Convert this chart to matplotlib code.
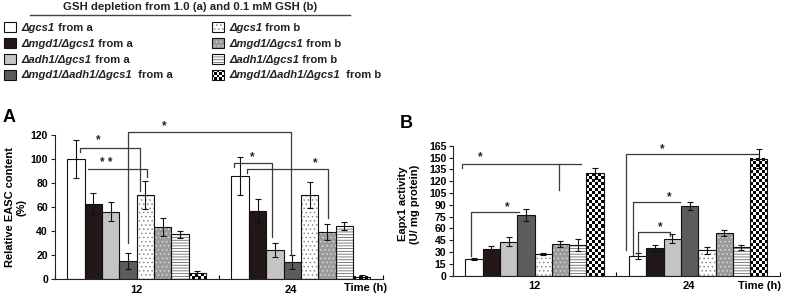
#!/usr/bin/env python3
import numpy as np
import matplotlib
matplotlib.use("Agg")
import matplotlib.pyplot as plt

# --------------------------
# Data
# --------------------------
TIMES = ["12", "24"]
SERIES = ["Δgcs1", "Δmgd1/Δgcs1", "Δadh1/Δgcs1", "Δmgd1/Δadh1/Δgcs1 ",
          "Δgcs1", "Δmgd1/Δgcs1", "Δadh1/Δgcs1", "Δmgd1/Δadh1/Δgcs1 "]
SOURCE = ["a", "a", "a", "a", "b", "b", "b", "b"]

# Panel A: relative EASC content (%)
easc_12 = [100, 62.5, 56, 15, 70, 43.6, 37.2, 4.7]
easc_12_err = [16, 9, 8, 7, 11.5, 7.4, 3, 2.2]
easc_24 = [86, 57, 24.4, 14.2, 70.3, 39.2, 44.2, 1.7]
easc_24_err = [16, 10, 6, 6, 10.8, 6.4, 3.2, 1.7]

# Panel B: Eapx1 activity (U/ mg protein)
apx_12 = [21, 34.3, 43.3, 77, 27.4, 40.3, 38.5, 129.8]
apx_12_err = [1, 3.5, 6, 7.5, 1, 4.3, 7.5, 7]
apx_24 = [24.8, 35.5, 47, 88.7, 32.5, 54, 36, 148.6]
apx_24_err = [4, 4, 5.5, 5, 4.5, 3.5, 3.5, 12]

# significance brackets: polyline (x in bar units, y in data) + star position
BRACKETS_A = [
    ([(1.44, 106), (1.44, 109), (4.9, 109), (4.9, 73.6)], (2.5, 115.3), "*"),
    ([(1.92, 91.4), (5.29, 91.4), (5.29, 85.2)], (2.94, 96.9), "* *"),
    ([(4.19, 29.7), (4.19, 122.7), (13.58, 122.7), (13.58, 20)], (6.28, 127.5), "*"),
    ([(10.32, 93.6), (10.32, 96.4), (12.52, 96.4), (12.52, 35.2)], (11.37, 101.4), "*"),
    ([(11.05, 88.1), (11.05, 91.4), (15.75, 91.4), (15.75, 50.6)], (14.99, 96.9), "*"),
]
BRACKETS_B = [
    ([(0.52, 136.3), (0.52, 141.4), (7.36, 141.4)], (1.54, 150.3), "*"),
    ([(6.13, 141.4), (6.13, 108.8)], None, ""),
    ([(1.02, 25), (1.02, 81.2), (3.8, 81.2)], (3.12, 86.8), "*"),
    ([(9.97, 32.6), (9.97, 154.1), (17.63, 154.1)], (12.08, 160.8), "*"),
    ([(10.37, 26.3), (10.37, 93.9), (13.14, 93.9)], (12.47, 100.3), "*"),
    ([(10.69, 30.5), (10.69, 55.1), (12.53, 55.1), (12.53, 50.4)], (11.99, 61.4), "*"),
]

# --------------------------
# Style
# --------------------------
FONT = "Liberation Sans"
plt.rcParams["font.family"] = [FONT, "DejaVu Sans"]
plt.rcParams["hatch.linewidth"] = 0.6
FS = 8
FACES = ["white", "#221818", "#c4c4c4", "#5c5c5c", "white", "#9a9a9a", "white", "white"]
HATCHES = [None, None, None, None, "....", "....", "------", "checker"]
HATCH_COLORS = [None, None, None, None, "#8a8a8a", "#dadada", "#6a6a6a", None]
LINE_C = "#3a3a3a"

GROUP_LEFT = [0.7, 10.17]
XMAX = 18.9
TICK_POS = [4.7, 13.6]
DIVIDERS = [0, 9.44, XMAX]

fig = plt.figure(figsize=(7.87, 2.97), dpi=100)
lax = fig.add_axes([0, 0, 1, 1])
lax.set_xlim(0, 787)
lax.set_ylim(297, 0)
lax.axis("off")


def checker(ax, x0, x1, y0, y1, cell_px=3.0, zorder=2):
    p0 = ax.transData.transform((x0, y0))
    p1 = ax.transData.transform((x1, y1))
    ncol = max(1, int(round(abs(p1[0] - p0[0]) / cell_px)))
    nrow = max(1, int(round(abs(p1[1] - p0[1]) / cell_px)))
    arr = (np.add.outer(np.arange(nrow), np.arange(ncol)) % 2).astype(float)
    ax.imshow(arr, cmap="gray", vmin=0, vmax=1, extent=(x0, x1, y0, y1),
              aspect="auto", interpolation="nearest", zorder=zorder)


def draw_panel(ax, vals, errs, ylim, yticks, brackets):
    ax.set_xlim(0, XMAX)
    ax.set_ylim(*ylim)
    for g, (v, e) in enumerate(zip(vals, errs)):
        x = GROUP_LEFT[g] + 0.5 + np.arange(len(v))
        for i in range(len(v)):
            if HATCHES[i] == "checker":
                checker(ax, x[i] - 0.5, x[i] + 0.5, 0, v[i])
            elif HATCHES[i]:
                ax.bar(x[i], v[i], width=1, color=FACES[i], edgecolor=HATCH_COLORS[i],
                       hatch=HATCHES[i], linewidth=0, zorder=2)
            else:
                ax.bar(x[i], v[i], width=1, color=FACES[i], linewidth=0, zorder=2)
            ax.bar(x[i], v[i], width=1, fill=False, edgecolor="#111111",
                   linewidth=0.8, zorder=3)
        ax.errorbar(x, v, yerr=e, fmt="none", ecolor="#111111", elinewidth=0.8,
                    capsize=2.2, capthick=0.8, zorder=4)
    for pts, star, lab in brackets:
        xs, ys = zip(*pts)
        ax.plot(xs, ys, color=LINE_C, lw=0.9, clip_on=False, zorder=5)
        if star is not None:
            ax.text(star[0], star[1], lab, ha="center", va="center", fontsize=8.5,
                    fontweight="bold", color="#222222", clip_on=False)
    ax.set_xlim(0, XMAX)
    ax.set_ylim(*ylim)
    ax.set_yticks(yticks)
    ax.set_yticklabels([str(t) for t in yticks], fontsize=7.6, fontweight="bold")
    ax.set_xticks(TICK_POS)
    ax.set_xticklabels(TIMES, fontsize=FS, fontweight="bold")
    ax.tick_params(axis="x", length=0, pad=4)
    ax.set_xticks(DIVIDERS, minor=True)
    ax.tick_params(axis="x", which="minor", direction="in", length=3, width=0.8)
    ax.tick_params(axis="y", length=3, width=0.8, pad=2, color="#222222")
    for s in ["top", "right"]:
        ax.spines[s].set_visible(False)
    for s in ["left", "bottom"]:
        ax.spines[s].set_linewidth(0.8)
        ax.spines[s].set_color("#222222")


# Panel A
axA = fig.add_axes([55 / 787, 18 / 297, 328 / 787, 144 / 297])
draw_panel(axA, [easc_12, easc_24], [easc_12_err, easc_24_err], (0, 120),
           list(range(0, 121, 20)), BRACKETS_A)

# Panel B
axB = fig.add_axes([453.3 / 787, 21.3 / 297, 326.7 / 787, 130 / 297])
draw_panel(axB, [apx_12, apx_24], [apx_12_err, apx_24_err], (0, 165),
           list(range(0, 166, 15)), BRACKETS_B)

# Axis labels and panel letters (figure pixel coords)
lax.text(16, 207, "Relative EASC content\n(%)", rotation=90, ha="center", va="center",
         multialignment="center", fontsize=FS, fontweight="bold", linespacing=1.15)
lax.text(409, 204, "Eapx1 activity\n(U/ mg protein)", rotation=90, ha="center",
         va="center", multialignment="center", fontsize=FS, fontweight="bold",
         linespacing=1.15)
lax.text(366, 288, "Time (h)", ha="center", va="center", fontsize=FS, fontweight="bold")
lax.text(760, 286, "Time (h)", ha="center", va="center", fontsize=FS, fontweight="bold")
lax.text(9, 118, "A", ha="center", va="center", fontsize=13, fontweight="bold")
lax.text(406, 123, "B", ha="center", va="center", fontsize=13, fontweight="bold")

# Legend
lax.text(190, 7.5, "GSH depletion from 1.0 (a) and 0.1 mM GSH (b)", ha="center",
         va="center", fontsize=8.2, fontweight="bold", color="#222222")
lax.plot([30, 350], [15, 15], color="#444444", lw=1)

ROW_Y = [27.3, 43.3, 59, 74.7]
renderer = fig.canvas.get_renderer()
for i, (name, src) in enumerate(zip(SERIES, SOURCE)):
    col = i // 4
    y = ROW_Y[i % 4]
    bx = 4 if col == 0 else 212.3
    tx = 21.7 if col == 0 else 229.3
    if HATCHES[i] == "checker":
        checker(lax, bx, bx + 11.7, y + 5, y - 5, cell_px=2.4)
    elif HATCHES[i]:
        lax.add_patch(plt.Rectangle((bx, y - 5), 11.7, 10, facecolor=FACES[i],
                                    edgecolor=HATCH_COLORS[i], hatch=HATCHES[i], lw=0))
    else:
        lax.add_patch(plt.Rectangle((bx, y - 5), 11.7, 10, facecolor=FACES[i], lw=0))
    lax.add_patch(plt.Rectangle((bx, y - 5), 11.7, 10, fill=False,
                                edgecolor="#111111", lw=0.8, zorder=3))
    t1 = lax.text(tx, y + 3.8, name, ha="left", va="baseline", fontsize=8.1,
                  fontweight="bold", fontstyle="italic", color="#222222")
    bb = t1.get_window_extent(renderer)
    x_end = lax.transData.inverted().transform((bb.x1, bb.y0))[0]
    lax.text(x_end, y + 3.8, " from " + src, ha="left", va="baseline", fontsize=8.1,
             fontweight="bold", color="#222222")
lax.set_xlim(0, 787)
lax.set_ylim(297, 0)

fig.savefig("out.png", dpi=100)
